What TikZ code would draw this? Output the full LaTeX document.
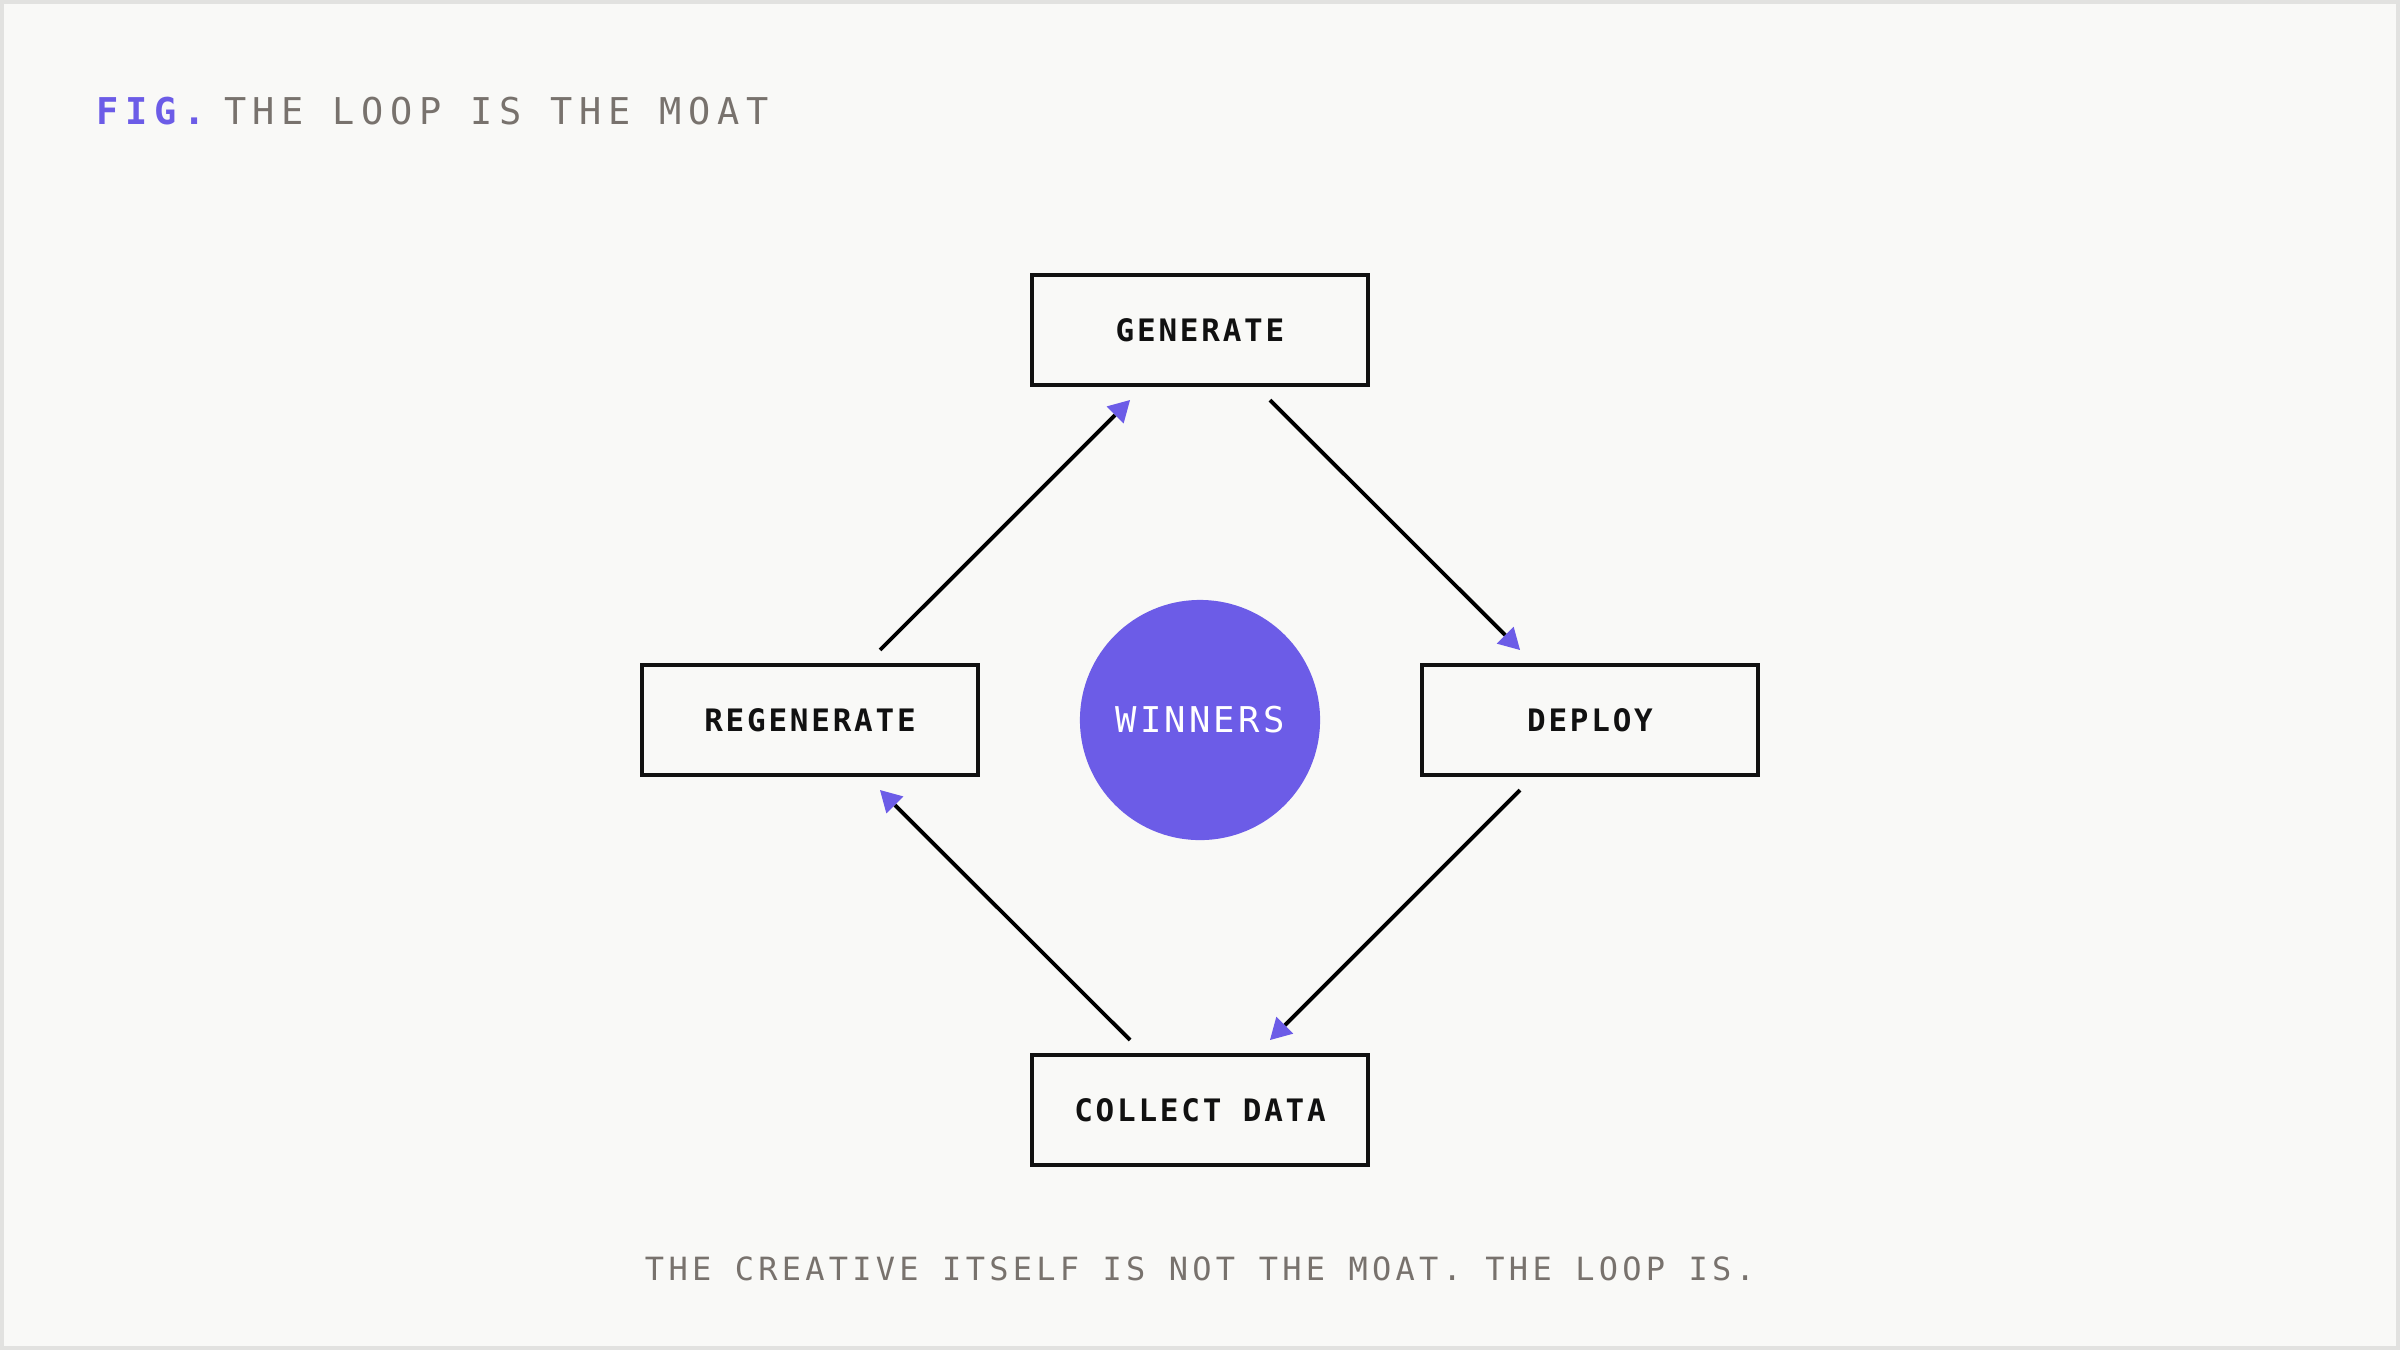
\documentclass[tikz,border=0pt]{standalone}
\usepackage{fontspec}
\usetikzlibrary{arrows.meta,calc}
\newfontfamily\titlefont[LetterSpace=18]{DejaVu Sans Mono}
\newfontfamily\footfont[LetterSpace=13.3]{DejaVu Sans Mono}
\newfontfamily\labelfont[LetterSpace=9]{DejaVu Sans Mono}
\definecolor{accent}{HTML}{6C5CE7}
\definecolor{bgc}{HTML}{F9F9F7}
\definecolor{framec}{HTML}{E2E2E0}
\definecolor{mutedc}{HTML}{78726D}
\definecolor{inkc}{HTML}{111111}
\begin{document}
\begin{tikzpicture}[x=0.01cm,y=-0.01cm,
  stagebox/.style={draw=inkc, line width=1.3pt, minimum width=3.36cm, minimum height=1.1cm,
    inner sep=0pt, outer sep=0pt, fill=bgc, text=inkc,
    font=\labelfont\bfseries\fontsize{8.8pt}{10pt}\selectfont},
  hub/.style={circle, fill=accent, minimum size=2.4cm, inner sep=0pt, outer sep=0pt, text=white,
    font=\labelfont\fontsize{10.1pt}{12pt}\selectfont},
  flow/.style={line width=1.1pt, draw=black, -{Triangle[length=0.21cm,width=0.24cm,line width=0pt,color=accent]}},
]
\useasboundingbox (0,0) rectangle (2400,1350);
\fill[framec] (0,0) rectangle (2400,1350);
\fill[bgc] (4,4) rectangle (2396,1346);

\node[anchor=base west, inner sep=0pt] (title) at (96,124)
  {\titlefont\fontsize{10.5pt}{12pt}\selectfont\textcolor{accent}{\bfseries FIG.}\hspace{-0.28em} \textcolor{mutedc}{THE LOOP IS THE MOAT}};

\node[stagebox] (gen) at (1200,330) {GENERATE};
\node[stagebox] (dep) at (1590,720) {DEPLOY};
\node[stagebox] (col) at (1200,1110) {COLLECT DATA};
\node[stagebox] (reg) at (810,720) {REGENERATE};
\node[hub] (win) at (1200,720) {WINNERS};

\draw[flow] ($(gen.south)+(70,15)$) -- ($(dep.north)+(-70,-15)$);
\draw[flow] ($(dep.south)+(-70,15)$) -- ($(col.north)+(70,-15)$);
\draw[flow] ($(col.north)+(-70,-15)$) -- ($(reg.south)+(70,15)$);
\draw[flow] ($(reg.north)+(70,-15)$) -- ($(gen.south)+(-70,15)$);

\node[anchor=base, inner sep=0pt, text=mutedc] (foot) at (1200,1280)
  {\footfont\fontsize{9.1pt}{11pt}\selectfont THE CREATIVE ITSELF IS NOT THE MOAT. THE LOOP IS.};
\end{tikzpicture}
\end{document}
